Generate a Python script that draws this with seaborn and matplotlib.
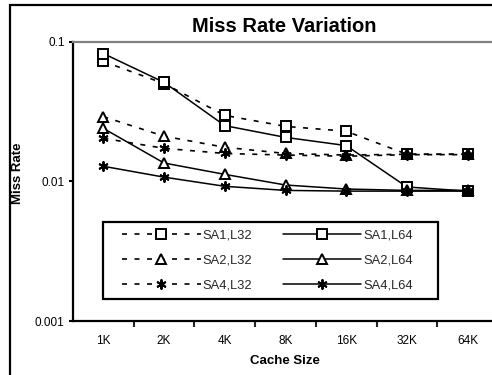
import matplotlib
matplotlib.use("Agg")
import matplotlib.pyplot as plt
import seaborn as sns
import pandas as pd
from matplotlib.patches import Rectangle

sizes = ["1K", "2K", "4K", "8K", "16K", "32K", "64K"]
sa1_l32 = [0.072, 0.050, 0.0296, 0.0247, 0.0228, 0.0156, 0.0156]
sa1_l64 = [0.082, 0.051, 0.025, 0.0206, 0.018, 0.0091, 0.0085]
sa2_l32 = [0.029, 0.021, 0.0175, 0.0158, 0.0154, 0.0156, 0.0156]
sa2_l64 = [0.0239, 0.0135, 0.0112, 0.0094, 0.0088, 0.0086, 0.0086]
sa4_l32 = [0.0203, 0.0172, 0.0158, 0.0154, 0.0151, 0.0155, 0.0155]
sa4_l64 = [0.0128, 0.0107, 0.0092, 0.0086, 0.0085, 0.0085, 0.0085]
series_names = ["SA1,L32", "SA2,L32", "SA4,L32", "SA1,L64", "SA2,L64", "SA4,L64"]
series_vals = [sa1_l32, sa2_l32, sa4_l32, sa1_l64, sa2_l64, sa4_l64]
y_ticks = [0.001, 0.01, 0.1]
y_ticklabels = ["0.001", "0.01", "0.1"]

sns.set_theme(style="white")
plt.rcParams['font.family'] = ['Liberation Sans', 'DejaVu Sans']

W, H = 492, 375
fig = plt.figure(figsize=(W / 100, H / 100), dpi=100)
ax = fig.add_axes([73 / W, 1 - 321 / H, (498 - 73) / W, (321 - 41.5) / H])

markers = {"SA1": "s", "SA2": "^", "SA4": (6, 2, 0)}
msizes = {"SA1": 6.5, "SA2": 7.0, "SA4": 7.2}
for name, vals in zip(series_names, series_vals):
    df = pd.DataFrame({"size": sizes, "rate": vals})
    key = name.split(",")[0]
    dashed = name.endswith("L32")
    sns.lineplot(data=df, x="size", y="rate", ax=ax, color="black",
                 marker=markers[key], markersize=msizes[key],
                 markerfacecolor="white", markeredgecolor="black",
                 markeredgewidth=1.4, linewidth=1.1 if not dashed else 1.2,
                 linestyle=(0, (3, 4.5)) if dashed else "-",
                 label=name, errorbar=None, sort=False)

ax.set_yscale("log")
ax.set_ylim(0.001, 0.1)
ax.set_xlim(-0.5, 6.5)
ax.set_yticks(y_ticks)
ax.set_yticklabels(y_ticklabels)
ax.yaxis.set_minor_locator(matplotlib.ticker.NullLocator())
ax.set_xticks(range(len(sizes)))
ax.set_xticklabels(sizes)
ax.set_xticks([i + 0.5 for i in range(len(sizes) - 1)], minor=True)
ax.tick_params(axis="x", which="major", length=0, labelsize=8.5, pad=10, colors="black")
ax.tick_params(axis="x", which="minor", length=4, width=1.5, direction="out", bottom=True)
ax.tick_params(axis="y", which="major", length=3, width=1.5, direction="out", left=True,
               labelsize=8.5, pad=3, colors="black")
ax.set_xlabel("")
ax.set_ylabel("")
ax.grid(False)

for s in ["left", "bottom"]:
    ax.spines[s].set_color("black")
    ax.spines[s].set_linewidth(1.6)
for s in ["top", "right"]:
    ax.spines[s].set_color("#808080")
    ax.spines[s].set_linewidth(1.6)

handles, labels = ax.get_legend_handles_labels()
leg = ax.legend(handles, labels, ncol=2, loc="center",
                bbox_to_anchor=(122 / W, 1 - 299 / H, (413 - 122) / W, (299 - 222) / H),
                bbox_transform=fig.transFigure, mode="expand", borderaxespad=0,
                fontsize=9.3, handlelength=6.1, handletextpad=0.15, columnspacing=2.0,
                labelspacing=1.0, frameon=False, borderpad=0)
fig.patches.append(Rectangle((103 / W, 1 - 299 / H), (438 - 103) / W, (299 - 222) / H,
                             transform=fig.transFigure, fill=True, facecolor="none",
                             edgecolor="black", linewidth=1.6, zorder=5))

fig.text(284 / W, 1 - 27 / H, "Miss Rate Variation", ha="center", va="center",
         fontsize=14.5, fontweight="bold", color="black")
fig.text(285 / W, 1 - 361 / H, "Cache Size", ha="center", va="center",
         fontsize=9.5, fontweight="bold", color="black")
fig.text(18 / W, 1 - 173 / H, "Miss Rate", ha="center", va="center", rotation=90,
         fontsize=9.5, fontweight="bold", color="black")

fig.patches.append(Rectangle((10 / W, -0.1), 1.2, 1 - 5 / H + 0.1, transform=fig.transFigure,
                             fill=False, edgecolor="black", linewidth=1.6, zorder=10))

fig.savefig("out.png", dpi=100)
